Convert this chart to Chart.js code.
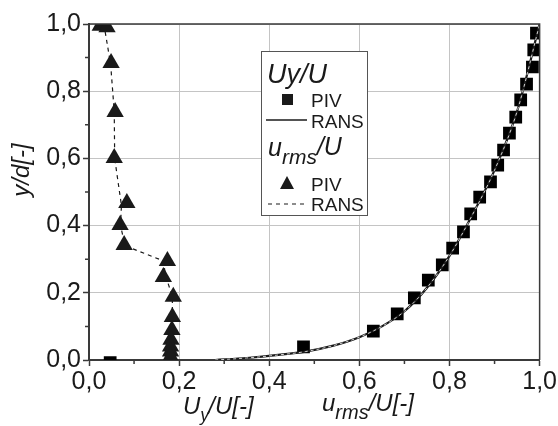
<!DOCTYPE html>
<html>
<head>
<meta charset="utf-8">
<script src="https://cdn.jsdelivr.net/npm/chart.js@4/dist/chart.umd.min.js"></script>
<style>
  html, body { margin: 0; padding: 0; background: #fff; }
  #wrap { width: 558px; height: 426px; }
</style>
</head>
<body>
<div id="wrap"><canvas id="c" width="558" height="426"></canvas></div>
<script>
// Uy/U - RANS (solid line)
const uyRansX = [0.28, 0.35, 0.42, 0.48, 0.54, 0.60, 0.65, 0.70, 0.75, 0.80, 0.85, 0.90, 0.95, 1.00];
const uyRansY = [0.00, 0.006, 0.015, 0.025, 0.042, 0.068, 0.10, 0.145, 0.215, 0.31, 0.43, 0.565, 0.74, 1.00];

// Uy/U - PIV (squares)
const uyPivX = [0.047, 0.476, 0.631, 0.684, 0.722, 0.753, 0.784, 0.807, 0.831, 0.847, 0.867, 0.891, 0.907, 0.920, 0.933, 0.947, 0.958, 0.971, 0.984, 0.987, 0.993];
const uyPivY = [-0.008, 0.039, 0.086, 0.137, 0.185, 0.238, 0.283, 0.333, 0.381, 0.435, 0.485, 0.530, 0.580, 0.625, 0.675, 0.723, 0.774, 0.821, 0.872, 0.923, 0.973];

// urms/U - PIV (triangles)
const rmsPivX = [0.025, 0.040, 0.049, 0.058, 0.056, 0.084, 0.069, 0.078, 0.174, 0.165, 0.187, 0.185, 0.184, 0.182, 0.181, 0.181, 0.181];
const rmsPivY = [0.995, 0.99, 0.884, 0.738, 0.601, 0.467, 0.402, 0.342, 0.295, 0.247, 0.188, 0.128, 0.089, 0.060, 0.040, 0.025, 0.010];

// urms/U - RANS (dashed line)
const rmsRansX = [0.033, 0.048, 0.056, 0.057, 0.072, 0.070, 0.080, 0.165, 0.170, 0.185, 0.185, 0.183];
const rmsRansY = [1.00, 0.88, 0.74, 0.60, 0.46, 0.40, 0.34, 0.295, 0.25, 0.19, 0.13, 0.00];

const xTicks = [0, 0.2, 0.4, 0.6, 0.8, 1.0];
const yTicks = [0, 0.2, 0.4, 0.6, 0.8, 1.0];

const FONT = '"Liberation Sans", Arial, sans-serif';
const INK = '#1a1a1a';
const AXIS = '#3a3a3a';

function pts(xs, ys) {
    return xs.map((x, i) => ({ x: x, y: ys[i] }));
}

function fmt(v) {
    return v.toFixed(1).replace('.', ',');
}

// frame, minor ticks, axis titles, legend
const decorations = {
    id: 'decorations',
    afterDraw(chart) {
        const { ctx, chartArea: a, scales } = chart;
        ctx.save();

        // top + right frame
        ctx.strokeStyle = AXIS;
        ctx.lineWidth = 1.5;
        ctx.beginPath();
        ctx.moveTo(a.left, a.top);
        ctx.lineTo(a.right, a.top);
        ctx.lineTo(a.right, a.bottom);
        ctx.stroke();

        // minor ticks
        ctx.lineWidth = 1.5;
        ctx.beginPath();
        for (let v = 0.1; v < 1; v += 0.2) {
            const px = scales.x.getPixelForValue(v);
            ctx.moveTo(px, a.bottom);
            ctx.lineTo(px, a.bottom + 4);
            const py = scales.y.getPixelForValue(v);
            ctx.moveTo(a.left, py);
            ctx.lineTo(a.left - 4, py);
        }
        ctx.stroke();

        ctx.fillStyle = INK;
        ctx.textBaseline = 'alphabetic';
        ctx.textAlign = 'left';

        // y title
        ctx.save();
        ctx.translate(29, 170);
        ctx.rotate(-Math.PI / 2);
        ctx.font = 'italic 24px ' + FONT;
        ctx.textAlign = 'center';
        ctx.fillText('y/d[-]', 0, 0);
        ctx.restore();

        // x titles
        let x = 183;
        const base = 414;
        ctx.font = 'italic 24px ' + FONT;
        ctx.fillText('U', x, base);
        x += ctx.measureText('U').width;
        ctx.font = 'italic 18px ' + FONT;
        ctx.fillText('y', x, base + 7);
        x += ctx.measureText('y').width - 1;
        ctx.font = 'italic 24px ' + FONT;
        ctx.fillText('/U[-]', x, base);

        x = 322;
        ctx.font = 'italic 24px ' + FONT;
        ctx.fillText('u', x, base - 3);
        x += ctx.measureText('u').width;
        ctx.font = 'italic 20px ' + FONT;
        ctx.fillText('rms', x, base + 5);
        x += ctx.measureText('rms').width;
        ctx.font = 'italic 24px ' + FONT;
        ctx.fillText('/U[-]', x, base - 3);

        // legend box
        const lx = 261, ly = 51, lw = 106, lh = 164;
        ctx.fillStyle = '#fff';
        ctx.fillRect(lx, ly, lw, lh);
        ctx.strokeStyle = '#555';
        ctx.lineWidth = 1;
        ctx.strokeRect(lx + 0.5, ly + 0.5, lw, lh);

        ctx.fillStyle = INK;
        ctx.font = 'italic 27px ' + FONT;
        ctx.fillText('Uy/U', 267, 83);

        // square + PIV
        ctx.fillRect(282, 94, 11, 11);
        ctx.font = '19px ' + FONT;
        ctx.fillText('PIV', 311, 107);

        // solid line + RANS
        ctx.strokeStyle = INK;
        ctx.lineWidth = 1.3;
        ctx.beginPath();
        ctx.moveTo(266, 120);
        ctx.lineTo(307, 120);
        ctx.stroke();
        ctx.fillText('RANS', 311, 128);

        // urms/U
        x = 268;
        ctx.font = 'italic 25px ' + FONT;
        ctx.fillText('u', x, 156);
        x += ctx.measureText('u').width;
        ctx.font = 'italic 21px ' + FONT;
        ctx.fillText('rms', x, 164);
        x += ctx.measureText('rms').width;
        ctx.font = 'italic 25px ' + FONT;
        ctx.fillText('/U', x, 155);

        // triangle + PIV
        ctx.beginPath();
        ctx.moveTo(287, 176);
        ctx.lineTo(294, 189);
        ctx.lineTo(280, 189);
        ctx.closePath();
        ctx.fill();
        ctx.font = '19px ' + FONT;
        ctx.fillText('PIV', 311, 191);

        // dashed line + RANS
        ctx.setLineDash([4, 4]);
        ctx.lineWidth = 1.2;
        ctx.beginPath();
        ctx.moveTo(268, 204);
        ctx.lineTo(308, 204);
        ctx.stroke();
        ctx.setLineDash([]);
        ctx.fillText('RANS', 311, 211);

        ctx.restore();
    }
};

const ctx = document.getElementById('c').getContext('2d');

new Chart(ctx, {
    type: 'scatter',
    data: {
        datasets: [
            {
                label: 'Uy RANS overlay',
                data: pts(uyRansX, uyRansY),
                showLine: true,
                borderColor: '#ffffff',
                borderWidth: 0.8,
                borderDash: [3, 3],
                pointRadius: 0,
                cubicInterpolationMode: 'monotone',
                order: 0
            },
            {
                label: 'Uy RANS',
                data: pts(uyRansX, uyRansY),
                showLine: true,
                borderColor: INK,
                borderWidth: 2.2,
                pointRadius: 0,
                cubicInterpolationMode: 'monotone',
                order: 1
            },
            {
                label: 'Uy PIV',
                data: pts(uyPivX, uyPivY),
                pointStyle: 'rect',
                pointRadius: 9,
                backgroundColor: '#000',
                borderColor: '#000',
                borderWidth: 0,
                clip: 0,
                order: 2
            },
            {
                label: 'urms PIV',
                data: pts(rmsPivX, rmsPivY),
                pointStyle: 'triangle',
                pointRadius: 10,
                backgroundColor: INK,
                borderColor: INK,
                borderWidth: 0,
                order: 3
            },
            {
                label: 'urms RANS',
                data: pts(rmsRansX, rmsRansY),
                showLine: true,
                borderColor: INK,
                borderWidth: 1.2,
                borderDash: [4, 4],
                pointRadius: 0,
                order: 4
            }
        ]
    },
    options: {
        responsive: false,
        animation: false,
        layout: { padding: { left: 0, right: 18, top: 24, bottom: 0 } },
        plugins: {
            legend: { display: false },
            tooltip: { enabled: false }
        },
        scales: {
            x: {
                type: 'linear',
                min: 0,
                max: 1,
                afterBuildTicks: s => { s.ticks = xTicks.map(v => ({ value: v })); },
                afterFit: s => { s.height = 66; },
                ticks: {
                    callback: v => fmt(v),
                    color: INK,
                    font: { family: FONT, size: 25 },
                    padding: 1,
                    maxRotation: 0
                },
                grid: { color: '#c4c4c4', lineWidth: 1, tickLength: 6, tickColor: AXIS, tickWidth: 1.5 },
                border: { color: AXIS, width: 2 }
            },
            y: {
                type: 'linear',
                min: 0,
                max: 1,
                afterBuildTicks: s => { s.ticks = yTicks.map(v => ({ value: v })); },
                afterFit: s => { s.width = 89; },
                ticks: {
                    callback: v => fmt(v),
                    color: INK,
                    font: { family: FONT, size: 25 },
                    padding: 2
                },
                grid: { color: '#c4c4c4', lineWidth: 1, tickLength: 6, tickColor: AXIS, tickWidth: 1.5 },
                border: { color: AXIS, width: 2 }
            }
        }
    },
    plugins: [decorations]
});
</script>
</body>
</html>
